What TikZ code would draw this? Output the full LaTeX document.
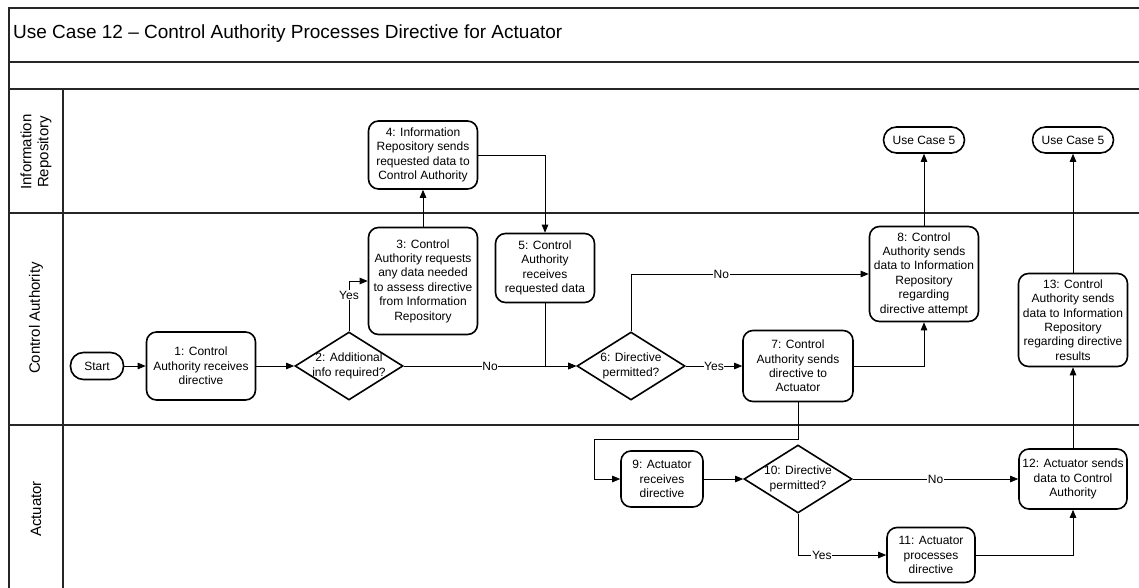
\documentclass[tikz,border=0pt]{standalone}
\usepackage{fontspec}
\setmainfont{Liberation Sans}
\usetikzlibrary{arrows.meta,shapes.geometric}

\begin{document}
\begin{tikzpicture}[x=1pt,y=-1pt,
  frame/.style={line width=1.3pt, draw=black!85},
  txt/.style={font=\fontsize{12}{14.4}\selectfont},
  proc/.style={txt, draw, line width=1.6pt, rounded corners=10pt, align=center, inner sep=1.5pt},
  term/.style={txt, draw, line width=1.6pt, rounded corners=13pt, minimum height=27pt, align=center, inner sep=1.5pt},
  decision/.style={draw, diamond, line width=1.6pt, inner sep=0pt, minimum width=108pt, minimum height=68pt},
  dtext/.style={txt, align=center},
  flow/.style={line width=0.8pt, -{Triangle[length=8pt,width=6.5pt]}},
  cond/.style={txt, fill=white, inner sep=0.6pt},
  lane/.style={rotate=90, align=center, font=\fontsize{15}{17}\selectfont}
]
\useasboundingbox (0,0) rectangle (1139,588);

% pool frame, title row and swimlanes
\draw[frame] (9,588) -- (9,8) -- (1139,8);
\foreach \yy in {62,89,213,425} \draw[frame] (9,\yy) -- (1139,\yy);
\draw[frame] (63,89) -- (63,588);
\node[anchor=base west, inner sep=0pt, font=\fontsize{19}{23}\selectfont] (title) at (13,39)
  {Use Case 12 – Control Authority Processes Directive for Actuator};
\node[lane] (laneIR) at (36,152) {Information\\Repository};
\node[lane] (laneCA) at (36,318) {Control Authority};
\node[lane] (laneAC) at (36,509) {Actuator};

% Control Authority lane
\node[term, minimum width=53pt] (start) at (97,366) {Start};
\node[proc, minimum width=109pt, minimum height=68pt] (n1) at (201,366) {1: Control\\Authority receives\\directive};
\node[decision, label={[dtext]center:2: Additional\\info required?}] (d2) at (349,366) {};
\node[proc, minimum width=109pt, minimum height=107pt] (n3) at (423,281) {3: Control\\Authority requests\\any data needed\\to assess directive\\from Information\\Repository};
\node[proc, minimum width=99pt, minimum height=69pt] (n5) at (545,268) {5: Control\\Authority\\receives\\requested data};
\node[decision, label={[dtext]center:6: Directive\\permitted?}] (d6) at (631,366) {};
\node[proc, minimum width=110pt, minimum height=71pt] (n7) at (798,366) {7: Control\\Authority sends\\directive to\\Actuator};
\node[proc, minimum width=109pt, minimum height=95pt] (n8) at (924,274) {8: Control\\Authority sends\\data to Information\\Repository\\regarding\\directive attempt};
\node[proc, minimum width=109pt, minimum height=93pt] (n13) at (1073,320) {13: Control\\Authority sends\\data to Information\\Repository\\regarding directive\\results};

% Information Repository lane
\node[proc, minimum width=109pt, minimum height=68pt] (n4) at (423,155) {4: Information\\Repository sends\\requested data to\\Control Authority};
\node[term, minimum width=81pt, minimum height=26pt] (uc5a) at (924,140) {Use Case 5};
\node[term, minimum width=81pt, minimum height=26pt] (uc5b) at (1073,140) {Use Case 5};

% Actuator lane
\node[proc, minimum width=82pt, minimum height=56pt] (n9) at (662,479) {9: Actuator\\receives\\directive};
\node[decision, label={[dtext]center:10: Directive\\permitted?}] (d10) at (798,479) {};
\node[proc, minimum width=88pt, minimum height=55pt] (n11) at (931,555) {11: Actuator\\processes\\directive};
\node[proc, minimum width=108pt, minimum height=60pt] (n12) at (1073,479) {12: Actuator sends\\data to Control\\Authority};
\coordinate (j7) at (594,439);

% connectors
\draw[flow] (start) -- (n1);
\draw[flow] (n1) -- (d2);
\draw[flow] (d2.north) |- node[cond, pos=0.36] {Yes} (n3.west);
\draw[flow] (d2.east) -- node[cond] {No} (d6.west);
\draw[flow] (n3) -- (n4);
\draw[flow] (n4.east) -| (n5.north);
\draw[flow] (n5.south) |- (d6.west);
\draw[flow] (d6.north) |- node[cond, pos=0.69] {No} (n8.west);
\draw[flow] (d6.east) -- node[cond] {Yes} (n7.west);
\draw[flow] (n7.east) -| (n8.south);
\draw[flow] (n8) -- (uc5a);
\draw[flow] (n7.south) |- (j7) |- (n9.west);
\draw[flow] (n9) -- (d10);
\draw[flow] (d10.east) -- node[cond] {No} (n12.west);
\draw[flow] (d10.south) |- node[cond, pos=0.635] {Yes} (n11.west);
\draw[flow] (n11.east) -| (n12.south);
\draw[flow] (n12) -- (n13);
\draw[flow] (n13) -- (uc5b);
\end{tikzpicture}
\end{document}
